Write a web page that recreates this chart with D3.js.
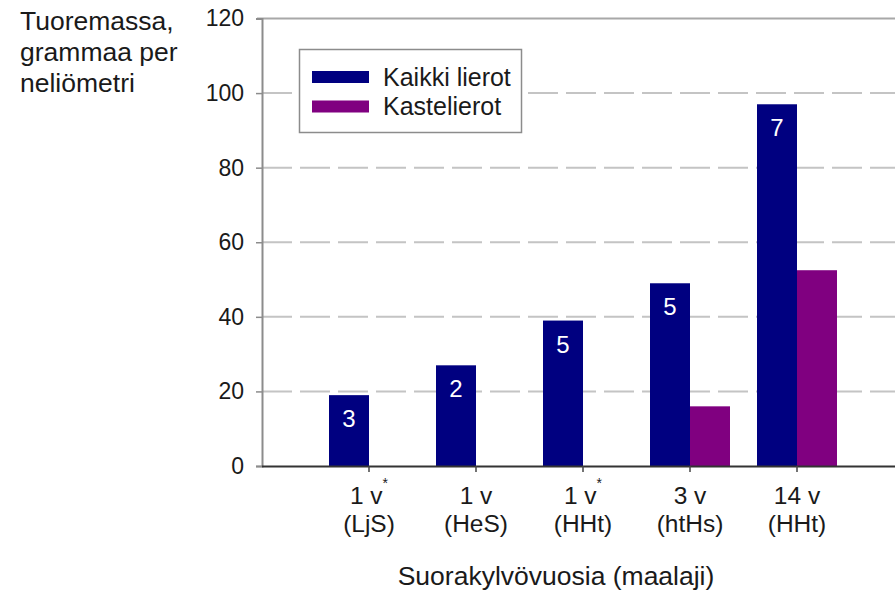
<!DOCTYPE html>
<html>
<head>
<meta charset="utf-8">
<script src="https://cdn.jsdelivr.net/npm/d3@7"></script>
<style>
  html, body { margin: 0; padding: 0; background: #fff; }
  svg { display: block; font-family: "Liberation Sans", Arial, sans-serif; }
</style>
</head>
<body>
<svg id="chart" width="895" height="593"></svg>
<script>
// Category labels (two lines each; a star marks a footnoted year)
const categories = ["c1", "c2", "c3", "c4", "c5"];
const yearLabels = ["1 v", "1 v", "1 v", "3 v", "14 v"];
const yearStars = [true, false, true, false, false];
const soilLabels = ["(LjS)", "(HeS)", "(HHt)", "(htHs)", "(HHt)"];

// Fresh biomass, g per square metre
const series = ["Kaikki lierot", "Kastelierot"];
const allWorms = [19, 27, 39, 49, 97];
const nightcrawlers = [null, null, null, 16, 52.5];
// Number of sites behind each "all worms" bar
const siteCounts = [3, 2, 5, 5, 7];

const yTicks = [0, 20, 40, 60, 80, 100, 120];

const colors = { "Kaikki lierot": "#000080", "Kastelierot": "#800080" };

const svg = d3.select("#chart");
const plotLeft = 262, plotRight = 895, plotTop = 18.5, plotBottom = 466;

const y = d3.scaleLinear().domain([0, 120]).range([plotBottom, plotTop]);
const x0 = d3.scaleBand().domain(categories).range([315.5, 850.5]).padding(0);
const x1 = d3.scaleBand().domain(series).range([0, x0.bandwidth()])
  .paddingInner(0).paddingOuter(0.3375);

// Horizontal gridlines
svg.append("g").selectAll("line")
  .data(yTicks.filter(d => d > 0 && d < 120))
  .join("line")
  .attr("x1", plotLeft).attr("x2", plotRight)
  .attr("y1", d => y(d)).attr("y2", d => y(d))
  .attr("stroke", "#c4c4c4").attr("stroke-width", 2)
  .attr("stroke-dasharray", "30,8");

// Top border of the plot area
svg.append("line")
  .attr("x1", plotLeft - 5).attr("x2", plotRight)
  .attr("y1", y(120)).attr("y2", y(120))
  .attr("stroke", "#a8a8a8").attr("stroke-width", 2);

// Bars
const rows = categories.map((c, i) => ({
  cat: c,
  values: [
    { key: "Kaikki lierot", value: allWorms[i] },
    { key: "Kastelierot", value: nightcrawlers[i] }
  ].filter(v => v.value != null),
  n: siteCounts[i],
  top: allWorms[i]
}));

const groups = svg.append("g").selectAll("g")
  .data(rows)
  .join("g")
  .attr("transform", d => `translate(${x0(d.cat)},0)`);

groups.selectAll("rect")
  .data(d => d.values)
  .join("rect")
  .attr("x", d => x1(d.key))
  .attr("width", x1.bandwidth())
  .attr("y", d => y(d.value))
  .attr("height", d => y(0) - y(d.value))
  .attr("fill", d => colors[d.key]);

// Site counts inside the blue bars
groups.append("text")
  .attr("x", x1("Kaikki lierot") + x1.bandwidth() / 2)
  .attr("y", d => y(d.top) + 32)
  .attr("text-anchor", "middle")
  .attr("fill", "#fff")
  .attr("font-size", 24)
  .text(d => d.n);

// Y axis
const yAxis = d3.axisLeft(y).tickValues(yTicks).tickSize(6).tickPadding(12);
const gy = svg.append("g").attr("transform", `translate(${plotLeft},0)`).call(yAxis);
gy.select(".domain").attr("stroke", "#8c8c8c").attr("stroke-width", 2);
gy.selectAll(".tick line").attr("stroke", "#8c8c8c").attr("stroke-width", 1.5);
gy.selectAll(".tick text")
  .attr("font-size", 23).attr("fill", "#1a1a1a")
  .attr("font-family", "Liberation Sans, Arial, sans-serif");

// X axis
const xAxis = d3.axisBottom(x0).tickSize(6).tickFormat(() => "");
const gx = svg.append("g").attr("transform", `translate(0,${plotBottom})`).call(xAxis);
gx.select(".domain").attr("d", `M${plotLeft},0.5H${plotRight}`).attr("stroke", "#333").attr("stroke-width", 2);
gx.selectAll(".tick line").attr("stroke", "#444").attr("stroke-width", 1.5);

// Two-line category labels
const labels = svg.append("g").selectAll("g")
  .data(categories)
  .join("g")
  .attr("transform", d => `translate(${x0(d) + x0.bandwidth() / 2},0)`)
  .attr("font-size", 24.5).attr("fill", "#1a1a1a").attr("text-anchor", "middle");

labels.append("text")
  .attr("y", 504)
  .each(function (d, i) {
    const t = d3.select(this);
    t.append("tspan").text(yearLabels[i]);
    if (yearStars[i]) {
      t.append("tspan").attr("font-size", 14).attr("dy", -16).text("*");
    }
  });
labels.append("text").attr("y", 532).text((d, i) => soilLabels[i]);

// Axis titles
svg.append("text")
  .attr("x", 556).attr("y", 585)
  .attr("text-anchor", "middle").attr("font-size", 26.5).attr("fill", "#1a1a1a")
  .text("Suorakylvövuosia (maalaji)");

const yTitle = svg.append("text").attr("font-size", 26.5).attr("fill", "#1a1a1a");
["Tuoremassa,", "grammaa per", "neliömetri"].forEach((s, i) => {
  yTitle.append("tspan").attr("x", 20).attr("y", 30 + i * 31).text(s);
});

// Legend
const legend = svg.append("g");
legend.append("rect")
  .attr("x", 299.5).attr("y", 49.5).attr("width", 222).attr("height", 83)
  .attr("fill", "#fff").attr("stroke", "#8c8c8c").attr("stroke-width", 1.5);
series.forEach((s, i) => {
  legend.append("rect")
    .attr("x", 312).attr("y", 71 + i * 29.5).attr("width", 57).attr("height", 12)
    .attr("fill", colors[s]);
  legend.append("text")
    .attr("x", 383).attr("y", 85.5 + i * 29.5)
    .attr("font-size", 25).attr("fill", "#1a1a1a")
    .text(s);
});
</script>
</body>
</html>
